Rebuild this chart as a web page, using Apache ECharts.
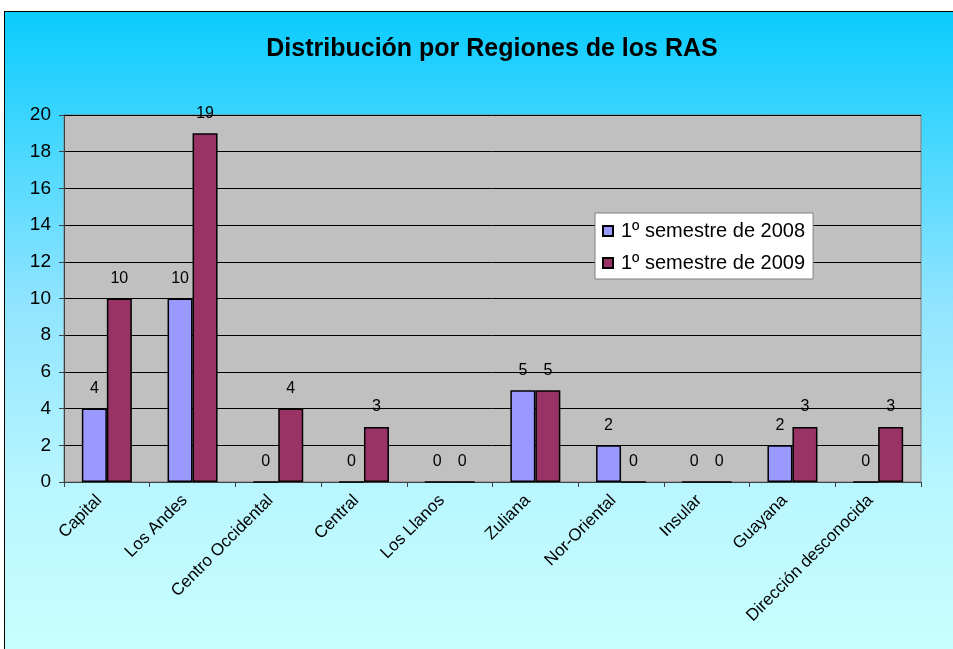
<!DOCTYPE html>
<html>
<head>
<meta charset="utf-8">
<script src="https://cdn.jsdelivr.net/npm/echarts@6/dist/echarts.min.js"></script>
<style>
  html, body { margin: 0; padding: 0; background: #ffffff; }
  #frame {
    position: absolute; left: 4px; top: 11px; width: 949px; height: 638px;
    border-top: 1px solid #000; border-left: 1px solid #000;
    background: linear-gradient(to bottom, #0accfe 0%, #8fe4ff 45%, #b9f6ff 75%, #c8ffff 100%);
  }
  #chart { position: absolute; left: 0; top: 0; width: 953px; height: 649px; }
</style>
</head>
<body>
<div id="frame"></div>
<div id="chart"></div>
<script>
var regiones = ['Capital', 'Los Andes', 'Centro Occidental', 'Central', 'Los Llanos', 'Zuliana', 'Nor-Oriental', 'Insular', 'Guayana', 'Dirección desconocida'];
var sem2008 = [4, 10, 0, 0, 0, 5, 2, 0, 2, 0];
var sem2009 = [10, 19, 4, 3, 0, 5, 0, 0, 3, 3];

var fuente = 'Liberation Sans, Arial, sans-serif';
var myChart = echarts.init(document.getElementById('chart'));
var etiqueta = {
    show: true,
    position: 'top',
    distance: 12,
    color: '#000',
    fontFamily: fuente,
    fontSize: 16
};
var option = {
    backgroundColor: 'transparent',
    animation: false,
    title: {
        text: 'Distribución por Regiones de los RAS',
        left: 487,
        top: 32,
        textAlign: 'center',
        textStyle: { fontFamily: fuente, fontSize: 25, fontWeight: 'bold', color: '#000' }
    },
    legend: {
        orient: 'vertical',
        left: 595,
        top: 213,
        itemWidth: 10,
        itemHeight: 10,
        itemGap: 12,
        padding: [8, 8, 6, 7],
        backgroundColor: '#fff',
        borderColor: '#808080',
        borderWidth: 1,
        icon: 'rect',
        textStyle: { fontFamily: fuente, fontSize: 20, color: '#000', padding: [0, 0, 0, 3] }
    },
    grid: {
        left: 64, right: 32, top: 115, bottom: 167,
        show: true,
        backgroundColor: '#c0c0c0',
        borderColor: '#808080',
        borderWidth: 1
    },
    xAxis: {
        type: 'category',
        data: regiones,
        axisLine: { lineStyle: { color: '#404040', width: 1 } },
        axisTick: { show: true, length: 5, lineStyle: { color: '#404040' } },
        axisLabel: {
            rotate: 45, interval: 0, margin: 8,
            padding: [0, 11, 0, 0],
            color: '#000', fontFamily: fuente, fontSize: 17
        }
    },
    yAxis: {
        type: 'value',
        min: 0, max: 20, interval: 2,
        axisLine: { show: true, lineStyle: { color: '#404040' } },
        axisTick: { show: true, length: 5, lineStyle: { color: '#404040' } },
        axisLabel: { color: '#000', margin: 13, fontFamily: fuente, fontSize: 19 },
        splitLine: { lineStyle: { color: '#000', width: 1 } }
    },
    series: [
        {
            name: '1º semestre de 2008',
            type: 'bar',
            data: sem2008,
            barWidth: 25,
            barGap: '0%',
            itemStyle: { color: '#9999ff', borderColor: '#000', borderWidth: 1.5 },
            label: etiqueta
        },
        {
            name: '1º semestre de 2009',
            type: 'bar',
            data: sem2009,
            barWidth: 25,
            barGap: '0%',
            itemStyle: { color: '#993366', borderColor: '#000', borderWidth: 1.5 },
            label: etiqueta
        }
    ]
};
myChart.setOption(option);
</script>
</body>
</html>
